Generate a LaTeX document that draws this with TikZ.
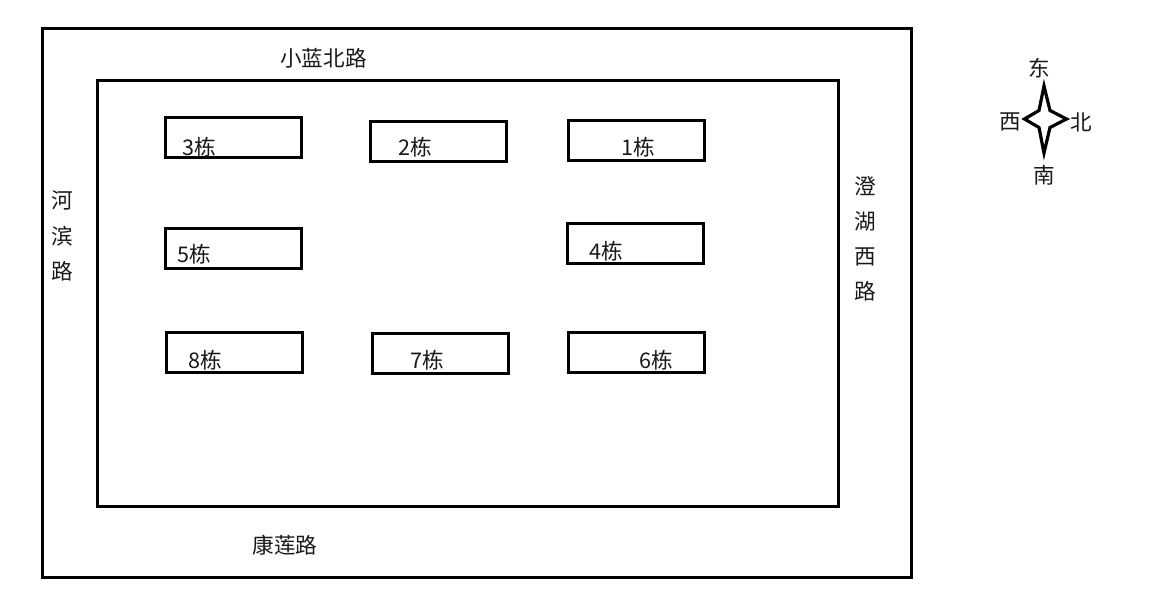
\documentclass[tikz,border=0pt]{standalone}
\usepackage{fontspec}
\setmainfont{Noto Sans CJK SC}[Scale=1]
\tikzset{
  px/.style={x=0.75pt,y=-0.75pt},
  frame/.style={draw=black,line width=2.35pt,fill=none,inner sep=0pt,outer sep=0pt},
  building/.style={frame,minimum width=102pt,minimum height=30pt},
  txt/.style={inner sep=0pt,outer sep=0pt,font=\fontsize{16.2pt}{17pt}\selectfont,text=black!90},
}
\begin{document}
\begin{tikzpicture}[px]
\useasboundingbox (0,0) rectangle (1157,599);
\node[frame,minimum width=651.75pt,minimum height=411.75pt] (outer) at (476.7,302.7) {};
\node[frame,minimum width=555.75pt,minimum height=319.5pt] (inner) at (467.7,293.2) {};
\node[building] (b3) at (233.4,137.8) {};
\node[building] (b2) at (438.4,141.8) {};
\node[building] (b1) at (636.4,140.8) {};
\node[building] (b5) at (233.4,248.8) {};
\node[building] (b4) at (635.4,243.8) {};
\node[building] (b8) at (234.4,352.8) {};
\node[building] (b7) at (440.4,353.8) {};
\node[building] (b6) at (636.4,352.8) {};
\node[txt] (t3) at (199.5,147.5) {3栋};
\node[txt] (t2) at (415.5,147.5) {2栋};
\node[txt] (t1) at (638,147.5) {1栋};
\node[txt] (t5) at (194.5,254.5) {5栋};
\node[txt] (t4) at (606.5,251.5) {4栋};
\node[txt] (t8) at (205,360.5) {8栋};
\node[txt] (t7) at (427.5,360.5) {7栋};
\node[txt] (t6) at (656,360.5) {6栋};
\node[txt] (north) at (323.5,58) {小蓝北路};
\node[txt] (south) at (285,545.5) {康莲路};
\node[txt] (w1) at (62,200) {河};
\node[txt] (w2) at (62,236) {滨};
\node[txt] (w3) at (62,271) {路};
\node[txt] (e1) at (865,186) {澄};
\node[txt] (e2) at (865,221) {湖};
\node[txt] (e3) at (865,257) {西};
\node[txt] (e4) at (865,291) {路};
\draw[black,line width=2.4pt,line join=miter,miter limit=8]
  (1044,86) -- (1050,110.5) -- (1066.5,119) -- (1050,127.5) -- (1044,153)
  -- (1039,127.5) -- (1024.5,119) -- (1039,110.5) -- cycle;
\node[txt] (d1) at (1039,68) {东};
\node[txt] (d2) at (1010,121.5) {西};
\node[txt] (d3) at (1081,122) {北};
\node[txt] (d4) at (1044,175.5) {南};
\end{tikzpicture}
\end{document}
